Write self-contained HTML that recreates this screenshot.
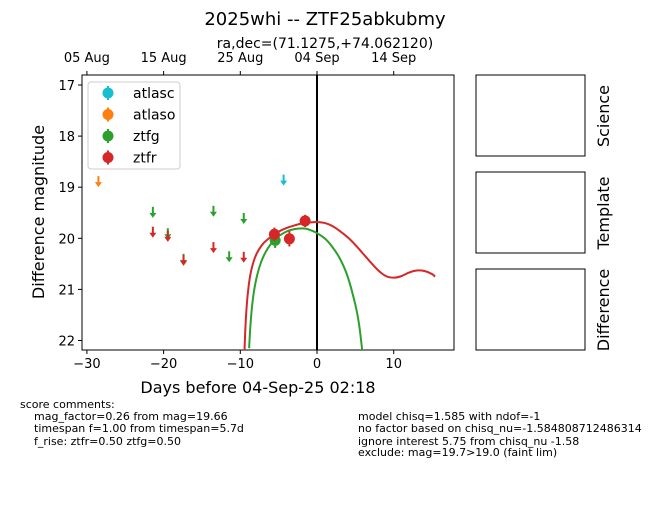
<!DOCTYPE html>
<html><head><meta charset="utf-8"><style>
body{margin:0;background:#fff;}
svg text{font-family:"DejaVu Sans","Liberation Sans",sans-serif;}
</style></head><body>
<svg id="c" width="650" height="500" xmlns="http://www.w3.org/2000/svg">
<text x="325" y="25" font-size="18" text-anchor="middle">2025whi -- ZTF25abkubmy</text>
<text x="325" y="48" font-size="14" text-anchor="middle">ra,dec=(71.1275,+74.062120)</text>
<g id="plot"></g>
<rect x="476" y="75" width="109" height="81" fill="none" stroke="#000"/>
<rect x="476" y="172" width="109" height="81" fill="none" stroke="#000"/>
<rect x="476" y="269" width="109" height="81" fill="none" stroke="#000"/>
<text transform="translate(609,116) rotate(-90)" font-size="16" text-anchor="middle">Science</text>
<text transform="translate(609,213) rotate(-90)" font-size="16" text-anchor="middle">Template</text>
<text transform="translate(609,310) rotate(-90)" font-size="16" text-anchor="middle">Difference</text>
<g font-size="11">
<text x="20" y="408">score comments:</text>
<text x="34" y="420">mag_factor=0.26 from mag=19.66</text>
<text x="34" y="432">timespan f=1.00 from timespan=5.7d</text>
<text x="34" y="445">f_rise: ztfr=0.50 ztfg=0.50</text>
<text x="358" y="420">model chisq=1.585 with ndof=-1</text>
<text x="358" y="432">no factor based on chisq_nu=-1.584808712486314</text>
<text x="358" y="445">ignore interest 5.75 from chisq_nu -1.58</text>
<text x="358" y="456">exclude: mag=19.7&gt;19.0 (faint lim)</text>
</g>
</svg>
<script>
const xTicks=[-30,-20,-10,0,10];
const yTicks=[17,18,19,20,21,22];
const topTickLabels=["05 Aug","15 Aug","25 Aug","04 Sep","14 Sep"];
const topTickDays=[-30,-20,-10,0,10];
const atlascLimDays=[-4.35];
const atlascLimMags=[18.93];
const atlasoLimDays=[-28.5];
const atlasoLimMags=[18.96];
const ztfgLimDays=[-21.4,-19.45,-17.4,-13.5,-11.45,-9.55];
const ztfgLimMags=[19.56,19.98,20.48,19.54,20.43,19.68];
const ztfrLimDays=[-21.4,-19.45,-17.4,-13.5,-9.55];
const ztfrLimMags=[19.95,20.03,20.5,20.25,20.44];
const ztfgDetDays=[-5.45];
const ztfgDetMags=[20.04];
const ztfgDetErr=[0.15];
const ztfrDetDays=[-5.55,-3.6,-1.55];
const ztfrDetMags=[19.92,20.01,19.66];
const ztfrDetErr=[0.13,0.15,0.12];
const redModelDays=[-9.45,-9.35,-9.2,-9,-8.7,-8.3,-7.8,-7,-6,-5,-4,-3,-2,-1,0,1,2,3,4,5,6,7,8,9,10,11,12,13,14,15,15.4];
const redModelMags=[22.2,21.8,21.4,21.05,20.72,20.47,20.28,20.1,19.97,19.87,19.8,19.75,19.71,19.69,19.68,19.7,19.76,19.86,19.98,20.13,20.3,20.47,20.63,20.74,20.77,20.74,20.67,20.63,20.64,20.7,20.75];
const greenModelDays=[-8.85,-8.7,-8.5,-8.2,-7.8,-7.3,-6.7,-6,-5.2,-4.4,-3.5,-2.5,-1.5,-0.5,0,1,2,3,4,5,5.5,5.9];
const greenModelMags=[22.15,21.75,21.38,21.02,20.72,20.47,20.27,20.11,19.98,19.9,19.84,19.81,19.81,19.86,19.9,20.0,20.17,20.4,20.75,21.3,21.7,22.2];

const L=82,R=454,T=75,B=350;
const xs=d=>317+d*7.67;
const ys=m=>85+(m-17)*51.1;
const NS="http://www.w3.org/2000/svg";
const plot=document.getElementById('plot');
function mk(tag,attrs,parent){const e=document.createElementNS(NS,tag);for(const k in attrs)e.setAttribute(k,attrs[k]);(parent||plot).appendChild(e);return e;}
const clipDefs=mk('defs',{});
const cp=mk('clipPath',{id:'cp'},clipDefs);
mk('rect',{x:L,y:T,width:R-L,height:B-T},cp);
const frame=mk('rect',{x:L,y:T,width:R-L,height:B-T,fill:'none',stroke:'#000'});


xTicks.forEach(t=>{
  const l=mk('line',{x1:xs(t),x2:xs(t),y1:B,y2:B+4,stroke:'#000'});
  
  
  const tx=mk('text',{x:xs(t),y:B+18,'font-size':13,'text-anchor':'middle'});
  tx.textContent=(t<0?'\u2212'+(-t):t);
  
  
});
yTicks.forEach(t=>{
  const l=mk('line',{x1:L-4,x2:L,y1:ys(t),y2:ys(t),stroke:'#000'});
  
  
  const tx=mk('text',{x:L-7,y:ys(t)+5,'font-size':13,'text-anchor':'end'});
  tx.textContent=t;
  
  
});
topTickDays.forEach((t,i)=>{
  const l=mk('line',{x1:xs(t),x2:xs(t),y1:T-4,y2:T,stroke:'#000'});
  
  
  const tx=mk('text',{x:xs(t),y:T-13,'font-size':13,'text-anchor':'middle'});
  tx.textContent=topTickLabels[i];
  
  
});
const xl=mk('text',{x:(L+R)/2-10,y:393,'font-size':16,'text-anchor':'middle'});
xl.textContent='Days before 04-Sep-25 02:18';


const yl=mk('text',{transform:'translate(44,212) rotate(-90)','font-size':16,'text-anchor':'middle'});
yl.textContent='Difference magnitude';


const vl=mk('line',{x1:xs(0),x2:xs(0),y1:T,y2:B,stroke:'#000','stroke-width':2});



const g=mk('g',{'clip-path':'url(#cp)'});
function smoothPath(pts){
  let d='M'+pts[0][0]+','+pts[0][1];
  for(let i=0;i<pts.length-1;i++){
    const p0=pts[Math.max(0,i-1)],p1=pts[i],p2=pts[i+1],p3=pts[Math.min(pts.length-1,i+2)];
    const c1x=p1[0]+(p2[0]-p0[0])/6,c1y=p1[1]+(p2[1]-p0[1])/6;
    const c2x=p2[0]-(p3[0]-p1[0])/6,c2y=p2[1]-(p3[1]-p1[1])/6;
    d+=`C${c1x},${c1y} ${c2x},${c2y} ${p2[0]},${p2[1]}`;
  }
  return d;
}
function curve(days,mags,color,name){
  const pts=days.map((d,i)=>[xs(d),ys(mags[i])]);
  const p=mk('path',{d:smoothPath(pts),fill:'none',stroke:color,'stroke-width':2},g);
  
  
}
curve(redModelDays,redModelMags,'#d62728','ztfr-model-curve');
curve(greenModelDays,greenModelMags,'#2ca02c','ztfg-model-curve');
function limits(days,mags,color,name){
  days.forEach((d,i)=>{
    const x=xs(d),y=ys(mags[i]);
    const a=mk('g',{},g);
    
    
    mk('line',{x1:x,x2:x,y1:y-9,y2:y,stroke:color,'stroke-width':2},a);
    mk('path',{d:`M${x-3.5},${y-3}L${x+3.5},${y-3}L${x},${y+2}Z`,fill:color},a);
  });
}
limits(atlasoLimDays,atlasoLimMags,'#ff7f0e','atlaso-upper-limit');
limits(atlascLimDays,atlascLimMags,'#17becf','atlasc-upper-limit');
limits(ztfgLimDays,ztfgLimMags,'#2ca02c','ztfg-upper-limit');
limits(ztfrLimDays,ztfrLimMags,'#d62728','ztfr-upper-limit');
function dets(days,mags,errs,color,name){
  days.forEach((d,i)=>{
    const x=xs(d),y=ys(mags[i]),e=errs[i]*51.1;
    const a=mk('g',{},g);
    
    
    mk('line',{x1:x,x2:x,y1:y-e,y2:y+e,stroke:color,'stroke-width':2},a);
    mk('circle',{cx:x,cy:y,r:5.5,fill:color},a);
  });
}
dets(ztfgDetDays,ztfgDetMags,ztfgDetErr,'#2ca02c','ztfg-detection');
dets(ztfrDetDays,ztfrDetMags,ztfrDetErr,'#d62728','ztfr-detection');

const lg=mk('g',{});


mk('rect',{x:88,y:82,width:92,height:87,rx:3,fill:'#fff',stroke:'#ccc'},lg);
[['atlasc','#17becf'],['atlaso','#ff7f0e'],['ztfg','#2ca02c'],['ztfr','#d62728']].forEach((s,i)=>{
  const y=93+i*21.5;
  const e=mk('g',{},lg);
  
  
  mk('line',{x1:108,x2:108,y1:y-7,y2:y+7,stroke:s[1],'stroke-width':2},e);
  mk('circle',{cx:108,cy:y,r:5.5,fill:s[1]},e);
  const t=mk('text',{x:133,y:y+5,'font-size':14},e);
  t.textContent=s[0];
});
</script>
</body></html>
